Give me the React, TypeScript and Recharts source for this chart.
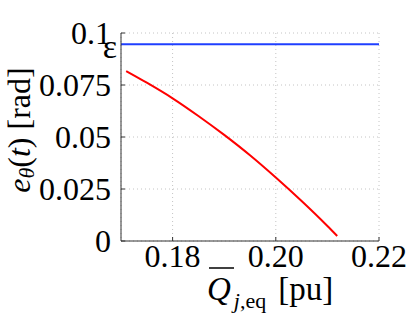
import React from "react";
import { LineChart, Line, XAxis, YAxis, CartesianGrid, ReferenceLine, Label } from "recharts";

const qEq = [0.171, 0.175, 0.18, 0.185, 0.19, 0.195, 0.2, 0.205, 0.21, 0.2119];
const eTheta = [0.0817, 0.0761, 0.0686, 0.0601, 0.051, 0.0412, 0.0305, 0.0192, 0.0072, 0.0024];
const epsilon = 0.0946;
const xTicks = [0.18, 0.2, 0.22];
const yTicks = [0, 0.025, 0.05, 0.075, 0.1];

const data = qEq.map((x, i) => ({ x, y: eTheta[i] }));

const FONT = "Liberation Serif";

const fmtY = (v: number) => (v === 0 ? "0" : String(v));
const fmtX = (v: number) => v.toFixed(2);

const YLabel = (props: any) => {
  const vb = props.viewBox || { x: 0, y: 0, width: 0, height: 0 };
  const cx = vb.x + 19;
  const cy = vb.y + vb.height / 2 - 7;
  return (
    <text
      x={cx}
      y={cy}
      transform={`rotate(-90, ${cx}, ${cy})`}
      textAnchor="middle"
      dominantBaseline="central"
      fontFamily={FONT}
      fontSize={32}
      fill="#000"
    >
      <tspan fontStyle="italic">e</tspan>
      <tspan fontStyle="italic" fontSize={22} dy={7}>θ</tspan>
      <tspan dy={-7}>(</tspan>
      <tspan fontStyle="italic">t</tspan>
      <tspan>) [rad]</tspan>
    </text>
  );
};

const XLabel = (props: any) => {
  const vb = props.viewBox || { x: 0, y: 0, width: 0, height: 0 };
  const sx = vb.x + vb.width / 2 - 43;
  const by = vb.y + 59;
  return (
    <g>
      <line x1={sx + 2} x2={sx + 27} y1={by - 32} y2={by - 32} stroke="#000" strokeWidth={1.5} />
      <text x={sx} y={by} fontFamily={FONT} fontSize={33} fill="#000">
        <tspan fontStyle="italic">Q</tspan>
        <tspan fontStyle="italic" fontSize={22} dy={8} dx={3}>j</tspan>
        <tspan fontSize={22}>,eq</tspan>
        <tspan dy={-8} dx={12}>[pu]</tspan>
      </text>
    </g>
  );
};

const EpsLabel = (props: any) => {
  const vb = props.viewBox || { x: 0, y: 0 };
  return (
    <text
      x={vb.x - 4}
      y={vb.y + 2}
      textAnchor="end"
      dominantBaseline="central"
      fontFamily={FONT}
      fontSize={34}
      fill="#000"
    >
      ε
    </text>
  );
};

export default function App() {
  return (
    <div style={{ position: "absolute", left: 0, top: 0, background: "#fff" }}>
      <LineChart width={407} height={318} data={data} margin={{ top: 33, right: 28, bottom: 0, left: 0 }}>
        <CartesianGrid stroke="#c4c4c4" strokeDasharray="1 3" />
        <XAxis
          dataKey="x"
          type="number"
          domain={[0.17, 0.22]}
          ticks={xTicks}
          tickFormatter={fmtX}
          height={77}
          tickSize={-4}
          tickMargin={7}
          tickLine={{ stroke: "#333" }}
          stroke="#333"
          tick={{ fontFamily: FONT, fontSize: 32, fill: "#000" }}
          allowDataOverflow
        >
          <Label content={<XLabel />} />
        </XAxis>
        <YAxis
          type="number"
          domain={[0, 0.1]}
          ticks={yTicks}
          tickFormatter={fmtY}
          width={121}
          tickSize={-4}
          tickMargin={14}
          tickLine={{ stroke: "#333" }}
          stroke="#333"
          tick={{ fontFamily: FONT, fontSize: 32, fill: "#000" }}
          allowDataOverflow
        >
          <Label content={<YLabel />} />
        </YAxis>
        <ReferenceLine y={epsilon} stroke="#1f3fff" strokeWidth={2} label={<EpsLabel />} />
        <Line
          dataKey="y"
          type="monotone"
          stroke="#ff0000"
          strokeWidth={2}
          dot={false}
          isAnimationActive={false}
        />
      </LineChart>
    </div>
  );
}
